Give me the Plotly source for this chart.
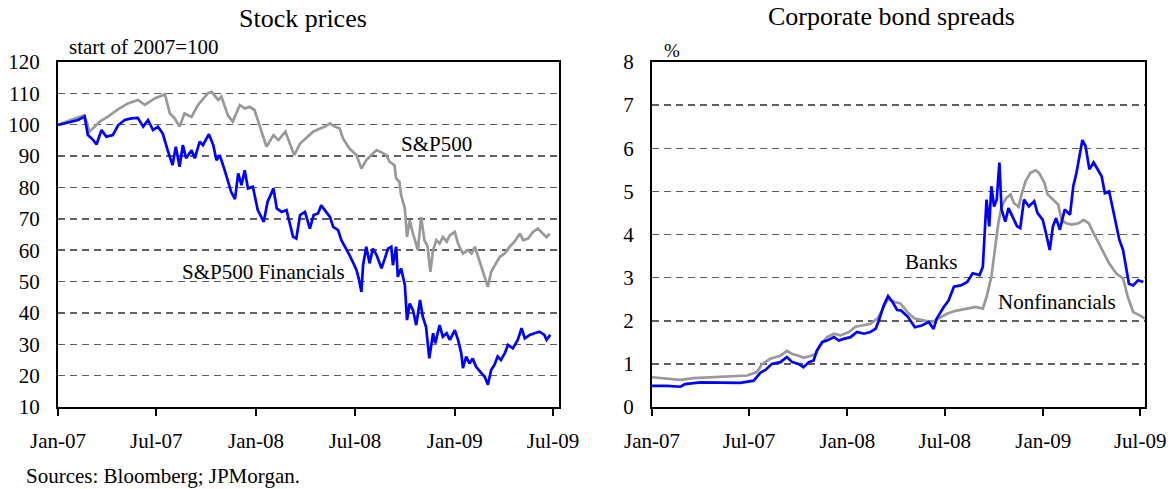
import plotly.graph_objects as go

# ---------------- data: Stock prices (start of 2007 = 100) ----------------
sp_dates = ["2007-01-01","2007-01-14","2007-02-01","2007-02-19","2007-02-28","2007-03-10","2007-03-19","2007-04-03","2007-04-22","2007-05-10",
            "2007-05-28","2007-06-10","2007-06-28","2007-07-17","2007-07-26","2007-08-04","2007-08-13","2007-08-22","2007-09-04","2007-09-16",
            "2007-10-04","2007-10-11","2007-10-23","2007-10-29","2007-11-10","2007-11-19","2007-12-02","2007-12-11","2007-12-20","2007-12-29",
            "2008-01-08","2008-01-20","2008-02-02","2008-02-11","2008-02-24","2008-03-07","2008-03-11","2008-03-22","2008-04-06","2008-04-15",
            "2008-04-28","2008-05-07","2008-05-16","2008-05-25","2008-06-03","2008-06-09","2008-06-21","2008-07-04","2008-07-13","2008-07-22",
            "2008-07-31","2008-08-10","2008-08-19","2008-08-28","2008-09-03","2008-09-12","2008-09-15","2008-09-21","2008-09-24","2008-10-01",
            "2008-10-05","2008-10-10","2008-10-16","2008-10-25","2008-10-31","2008-11-06","2008-11-12","2008-11-17","2008-11-22","2008-11-28",
            "2008-12-04","2008-12-10","2008-12-17","2008-12-23","2009-01-01","2009-01-07","2009-01-16","2009-01-25","2009-02-01","2009-02-07",
            "2009-02-13","2009-02-19","2009-02-25","2009-03-03","2009-03-09","2009-03-19","2009-03-25","2009-04-03","2009-04-12","2009-04-21",
            "2009-05-01","2009-05-07","2009-05-16","2009-05-25","2009-06-03","2009-06-12","2009-06-19","2009-06-25"]
sp_values = [100,100.9,102,103,97.8,99.4,101,102.6,105,106.8,
             107.9,106.3,108.4,109.7,103.6,102,99.4,103.6,102.5,106.3,
             110,110.5,107.9,109,103,101,106.3,105.2,105.7,104.7,
             99.4,93,96.7,95.1,97.8,91.9,90.3,94,96.2,97.8,
             98.8,99.4,100.4,99.4,98.8,95.6,92.4,90.3,86,88.7,
             90.3,91.9,91.2,90.3,88.2,87.1,82.9,81.8,77.6,73.3,
             64.2,69.5,65.3,60,70.6,63.2,61.1,53.1,60,63.2,
             62.1,64.2,62.7,64.8,65.8,62.1,58.9,60,58.9,61.1,
             57.9,54.7,51.5,48.3,53.1,56.3,57.9,58.9,61.1,62.7,
             65.3,63.2,63.7,65.8,66.9,65.3,64.2,65.3]

fin_dates = ["2007-01-01","2007-01-14","2007-01-26","2007-02-07","2007-02-19","2007-02-25","2007-03-07","2007-03-13","2007-03-22","2007-03-31",
             "2007-04-12","2007-04-22","2007-05-04","2007-05-16","2007-05-28","2007-06-07","2007-06-16","2007-06-25","2007-07-04","2007-07-13",
             "2007-07-22","2007-07-31","2007-08-06","2007-08-13","2007-08-19","2007-08-25","2007-09-04","2007-09-10","2007-09-19","2007-09-25",
             "2007-10-06","2007-10-14","2007-10-20","2007-10-26","2007-11-04","2007-11-10","2007-11-16","2007-11-23","2007-11-29","2007-12-05",
             "2007-12-11","2007-12-17","2007-12-26","2008-01-04","2008-01-15","2008-01-22","2008-02-02","2008-02-08","2008-02-17","2008-02-26",
             "2008-03-03","2008-03-09","2008-03-15","2008-03-22","2008-03-31","2008-04-09","2008-04-16","2008-04-24","2008-04-30","2008-05-07",
             "2008-05-16","2008-05-22","2008-05-31","2008-06-06","2008-06-13","2008-06-21","2008-06-27","2008-07-04","2008-07-08","2008-07-13",
             "2008-07-16","2008-07-22","2008-07-28","2008-08-03","2008-08-10","2008-08-19","2008-08-25","2008-08-31","2008-09-06","2008-09-09",
             "2008-09-15","2008-09-18","2008-09-24","2008-10-01","2008-10-05","2008-10-10","2008-10-16","2008-10-22","2008-10-29","2008-11-03",
             "2008-11-09","2008-11-15","2008-11-22","2008-11-26","2008-12-04","2008-12-10","2008-12-17","2008-12-23","2009-01-01","2009-01-07",
             "2009-01-13","2009-01-16","2009-01-22","2009-01-28","2009-02-03","2009-02-09","2009-02-19","2009-02-25","2009-03-03","2009-03-09",
             "2009-03-15","2009-03-21","2009-03-27","2009-04-03","2009-04-09","2009-04-18","2009-04-27","2009-05-04","2009-05-10","2009-05-19",
             "2009-05-28","2009-06-06","2009-06-15","2009-06-19","2009-06-26"]
fin_values = [99.9,100.4,101,101.5,102.6,96.7,95.1,93.7,98.3,96.2,
              96.7,99.9,101.5,102,102.2,99.4,101.5,98.3,99.4,97.2,
              91.9,87.1,93,86.6,93.5,89.3,91.9,89.3,94.6,93.5,
              97,93.5,88.7,90.3,85.5,81.8,78.6,76.3,84.5,80.7,
              85.5,79.7,80.2,72.8,69,75.4,79.7,73.3,72.2,72.8,
              68,64.3,63.7,71.2,72.2,66.9,71.2,71.7,74.3,72.7,
              70.6,67.4,66.4,63.2,61.1,58.4,56.3,53.6,51,46.7,
              55.2,61.1,55.8,60.5,58.4,54.2,57.3,60.5,61.1,55.2,
              61.1,51.5,54.2,48.9,37.7,43,40.9,36.1,44.1,38.8,
              35.6,25.5,33.5,30.3,36.1,32.4,33.5,31.4,34.5,31.4,
              27.1,22.4,26.1,23.9,25.5,22.9,20.8,19.7,17.1,21.8,
              23.4,26.1,25,27.1,29.8,28.7,31.4,35.1,31.9,33,
              33.5,34,33,31.4,33]

# ---------------- data: Corporate bond spreads (%) ----------------
bank_dates = ["2007-01-01","2007-01-29","2007-02-23","2007-03-04","2007-04-01","2007-05-15","2007-06-15","2007-07-10","2007-07-23","2007-08-01",
              "2007-08-13","2007-08-29","2007-09-10","2007-09-20","2007-10-02","2007-10-11","2007-10-21","2007-10-30","2007-11-05","2007-11-15",
              "2007-11-24","2007-12-07","2007-12-16","2007-12-25","2008-01-07","2008-01-19","2008-02-01","2008-02-13","2008-02-23","2008-02-29",
              "2008-03-09","2008-03-17","2008-03-25","2008-04-03","2008-04-10","2008-04-23","2008-05-06","2008-05-19","2008-06-01","2008-06-10",
              "2008-06-16","2008-06-29","2008-07-08","2008-07-18","2008-07-31","2008-08-12","2008-08-22","2008-09-04","2008-09-10","2008-09-17",
              "2008-09-22","2008-09-26","2008-10-01","2008-10-06","2008-10-11","2008-10-15","2008-10-22","2008-10-28","2008-11-04","2008-11-13",
              "2008-11-19","2008-11-26","2008-12-05","2008-12-15","2008-12-21","2008-12-31","2009-01-06","2009-01-13","2009-01-19","2009-01-25",
              "2009-02-01","2009-02-10","2009-02-20","2009-02-26","2009-03-04","2009-03-11","2009-03-15","2009-03-21","2009-03-28","2009-04-05",
              "2009-04-12","2009-04-20","2009-04-26","2009-05-04","2009-05-10","2009-05-17","2009-05-23","2009-05-30","2009-06-04","2009-06-10",
              "2009-06-18","2009-06-27","2009-07-07"]
bank_values = [0.49,0.49,0.47,0.53,0.57,0.56,0.56,0.61,0.80,0.86,
               1.00,1.04,1.16,1.04,1.00,0.92,1.04,1.08,1.31,1.51,
               1.54,1.62,1.54,1.58,1.62,1.74,1.70,1.74,1.82,2.01,
               2.36,2.57,2.44,2.25,2.24,2.09,1.85,1.89,1.97,1.81,
               2.05,2.32,2.47,2.79,2.82,2.90,3.10,3.06,3.25,4.81,
               4.19,5.12,4.65,4.81,5.67,4.58,4.30,4.61,4.42,4.19,
               4.15,4.81,4.65,4.77,4.50,4.34,4.03,3.64,4.19,4.38,
               4.11,4.58,4.46,5.12,5.43,5.90,6.19,6.05,5.51,5.67,
               5.51,5.35,4.96,5.00,4.65,4.19,3.88,3.64,3.25,2.86,
               2.82,2.94,2.90]

nonfin_dates = ["2007-01-01","2007-01-29","2007-02-23","2007-03-20","2007-04-26","2007-06-03","2007-06-28","2007-07-16","2007-07-26","2007-08-10",
                "2007-08-29","2007-09-10","2007-09-20","2007-10-02","2007-10-11","2007-10-21","2007-11-02","2007-11-12","2007-11-24","2007-12-07",
                "2007-12-19","2008-01-04","2008-01-16","2008-01-29","2008-02-13","2008-02-26","2008-03-06","2008-03-17","2008-03-28","2008-04-09",
                "2008-04-16","2008-04-25","2008-05-06","2008-05-25","2008-06-07","2008-06-19","2008-07-05","2008-07-21","2008-08-09","2008-08-28",
                "2008-09-10","2008-09-17","2008-09-26","2008-10-02","2008-10-09","2008-10-15","2008-10-24","2008-11-01","2008-11-07","2008-11-16",
                "2008-11-22","2008-11-29","2008-12-08","2008-12-18","2008-12-24","2009-01-03","2009-01-09","2009-01-19","2009-01-29","2009-02-04",
                "2009-02-13","2009-02-23","2009-03-08","2009-03-17","2009-03-27","2009-04-05","2009-04-15","2009-04-25","2009-05-04","2009-05-17",
                "2009-05-30","2009-06-08","2009-06-18","2009-07-01","2009-07-10"]
nonfin_values = [0.69,0.65,0.63,0.67,0.69,0.70,0.73,0.81,1.00,1.12,
                 1.19,1.30,1.23,1.19,1.14,1.17,1.22,1.43,1.62,1.70,
                 1.66,1.74,1.86,1.89,1.93,2.05,2.25,2.50,2.44,2.40,
                 2.30,2.16,2.05,2.01,1.97,2.05,2.16,2.23,2.28,2.32,
                 2.28,2.55,3.02,3.64,4.26,4.65,4.85,4.93,4.73,4.64,
                 4.96,5.24,5.43,5.49,5.43,5.20,4.93,4.81,4.69,4.34,
                 4.26,4.23,4.26,4.34,4.26,4.03,3.80,3.56,3.33,3.10,
                 2.98,2.55,2.20,2.12,2.05]

# ---------------- styling ----------------
FONT = "Liberation Serif"
BLUE = "#0000FF"
GREY = "#999999"
W, H = 1171, 489

fig = go.Figure()
fig.add_trace(go.Scatter(x=sp_dates, y=sp_values, mode="lines", line=dict(color=GREY, width=2.7),
                         xaxis="x", yaxis="y", showlegend=False, hoverinfo="skip"))
fig.add_trace(go.Scatter(x=fin_dates, y=fin_values, mode="lines", line=dict(color=BLUE, width=2.7),
                         xaxis="x", yaxis="y", showlegend=False, hoverinfo="skip"))
fig.add_trace(go.Scatter(x=nonfin_dates, y=nonfin_values, mode="lines", line=dict(color=GREY, width=2.7),
                         xaxis="x2", yaxis="y2", showlegend=False, hoverinfo="skip"))
fig.add_trace(go.Scatter(x=bank_dates, y=bank_values, mode="lines", line=dict(color=BLUE, width=2.7),
                         xaxis="x2", yaxis="y2", showlegend=False, hoverinfo="skip"))

def xax(domain, rng, anchor):
    return dict(domain=domain, range=rng, type="date", anchor=anchor, automargin=False,
                tick0="2007-01-01", dtick="M6", tickformat="%b-%y",
                ticks="outside", ticklen=7, tickwidth=2, tickcolor="black",
                showline=True, linecolor="black", linewidth=2, mirror=True,
                showgrid=False, zeroline=False, ticklabelstandoff=7,
                tickfont=dict(family=FONT, size=21, color="black"))

def yax(domain, rng, dtick, anchor):
    return dict(domain=domain, range=rng, dtick=dtick, anchor=anchor, automargin=False,
                ticks="", showline=True, linecolor="black", linewidth=2, mirror=True,
                showgrid=True, gridcolor="#5f5f5f", gridwidth=1.5, griddash="7px,5px",
                zeroline=False, ticklabelstandoff=12,
                tickfont=dict(family=FONT, size=21, color="black"))

ydom = [1 - 407 / H, 1 - 62 / H]
fig.update_layout(
    width=W, height=H,
    margin=dict(l=0, r=0, t=0, b=0, autoexpand=False),
    paper_bgcolor="white", plot_bgcolor="white",
    xaxis=xax([58 / W, 559 / W], ["2007-01-01", "2009-07-12"], "y"),
    yaxis=yax(ydom, [10, 120], 10, "x"),
    xaxis2=xax([652 / W, 1145 / W], ["2007-01-01", "2009-07-10"], "y2"),
    yaxis2=yax(ydom, [0, 8], 1, "x2"),
)

def txt(text, x, y, xref, yref, size=21, xanchor="center"):
    fig.add_annotation(text=text, x=x, y=y, xref=xref, yref=yref, showarrow=False,
                       xanchor=xanchor, yanchor="middle",
                       font=dict(family=FONT, size=size, color="black"))

txt("Stock prices", 303 / W, 1 - 18 / H, "paper", "paper", size=26)
txt("Corporate bond spreads", 891 / W, 1 - 17 / H, "paper", "paper", size=26)
txt("start of 2007=100", 67 / W, 1 - 47 / H, "paper", "paper", xanchor="left")
txt("%", 672 / W, 1 - 51 / H, "paper", "paper", size=19)
txt("Sources: Bloomberg; JPMorgan.", 24 / W, 1 - 476 / H, "paper", "paper", xanchor="left")
txt("S&P500", "2008-11-29", 94, "x", "y")
txt("S&P500 Financials", "2008-01-15", 53, "x", "y")
txt("Banks", "2008-06-06", 3.37, "x2", "y2")
txt("Nonfinancials", "2009-01-27", 2.44, "x2", "y2")

fig.write_html("out.html", config={"displayModeBar": False, "staticPlot": True},
               post_script="document.body.style.margin='0';document.body.style.overflow='hidden';")
